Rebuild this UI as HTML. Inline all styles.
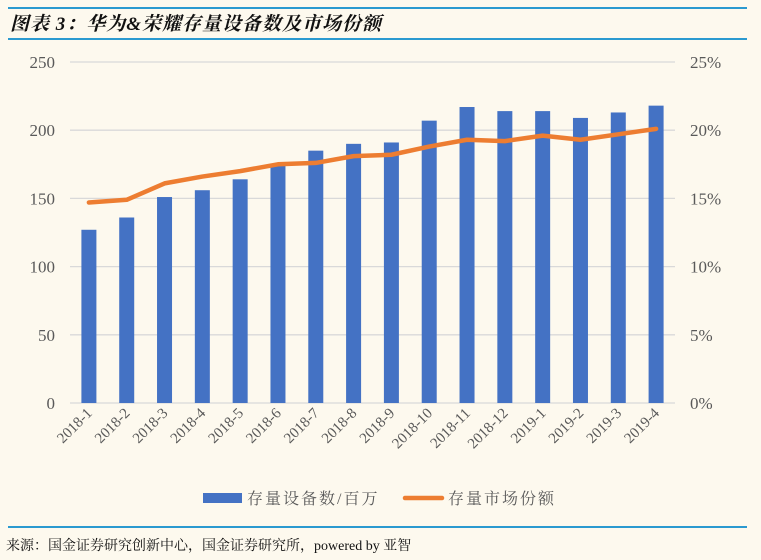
<!DOCTYPE html>
<html><head><meta charset="utf-8"><style>
html,body{margin:0;padding:0;background:#fdf9ee;}
body{width:761px;height:560px;position:relative;overflow:hidden;font-family:"Liberation Serif","Noto Serif CJK SC",serif;}
.hr{position:absolute;left:8px;width:739px;height:2px;background:#2b9ad0;}
#title{position:absolute;left:10px;top:9px;font-size:19px;font-weight:bold;font-style:italic;color:#111;font-family:"Liberation Serif","Noto Serif CJK SC",serif;letter-spacing:1px;}
#source{position:absolute;left:6px;top:535px;font-size:14px;color:#111;}
</style></head><body>
<div class="hr" style="top:7px"></div>
<div id="title">图表 3：华为&amp;荣耀存量设备数及市场份额</div>
<div class="hr" style="top:38px"></div>
<svg id="chart" width="761" height="560" style="position:absolute;left:0;top:0" font-family="Liberation Serif, Noto Serif CJK SC, serif"></svg>
<div class="hr" style="top:526px"></div>
<div id="source">来源：国金证券研究创新中心，国金证券研究所，powered by 亚智</div>
<script>
const categories=["2018-1","2018-2","2018-3","2018-4","2018-5","2018-6","2018-7","2018-8","2018-9","2018-10","2018-11","2018-12","2019-1","2019-2","2019-3","2019-4"];
const deviceValues=[127,136,151,156,164,175,185,190,191,207,217,214,214,209,213,218];
const shareValues=[14.7,14.9,16.1,16.6,17.0,17.5,17.6,18.1,18.2,18.8,19.3,19.2,19.6,19.3,19.7,20.1];
const leftTicks=[0,50,100,150,200,250];
const rightTicks=[0,5,10,15,20,25];
const svg=document.getElementById('chart');
const NS='http://www.w3.org/2000/svg';
const X0=70,X1=675,Y0=403,Y1=62;
const step=(X1-X0)/categories.length;
const xc=i=>X0+step*(i+0.5);
const yL=v=>Y0-(v/250)*(Y0-Y1);
const yR=v=>Y0-(v/25)*(Y0-Y1);
function mk(t,a){const e=document.createElementNS(NS,t);for(const k in a)e.setAttribute(k,a[k]);svg.appendChild(e);return e;}
leftTicks.forEach((v,i)=>{
  const g=mk('line',{x1:X0,x2:X1,y1:yL(v),y2:yL(v),stroke:'#d9d9d9','stroke-width':1.3});
  
  
  const t=mk('text',{x:55,y:yL(v)+6,'text-anchor':'end','font-size':17,fill:'#595959'});
  t.textContent=v;
  
  
});
rightTicks.forEach(v=>{
  const t=mk('text',{x:690,y:yR(v)+6,'text-anchor':'start','font-size':17,fill:'#595959'});
  t.textContent=v+'%';
  
  
});
deviceValues.forEach((v,i)=>{
  const r=mk('rect',{x:xc(i)-7.5,y:yL(v),width:15,height:Y0-yL(v),fill:'#4472c4'});
  
  
});
const pl=mk('polyline',{points:shareValues.map((v,i)=>xc(i)+','+yR(v)).join(' '),fill:'none',stroke:'#ed7d31','stroke-width':4.5,'stroke-linejoin':'round','stroke-linecap':'round'});


categories.forEach((c,i)=>{
  const x=xc(i)+4,y=414;
  const t=mk('text',{x:x,y:y,'text-anchor':'end','font-size':15,fill:'#595959',transform:`rotate(-45 ${x} ${y})`});
  t.textContent=c;
  
  
});
const lb=mk('rect',{x:203,y:493,width:39,height:10,fill:'#4472c4'});


const lt1=mk('text',{x:247,y:504,'font-size':16,fill:'#595959','letter-spacing':2});
lt1.textContent='存量设备数/百万';


const ll=mk('line',{x1:405,x2:442,y1:498,y2:498,stroke:'#ed7d31','stroke-width':4.5,'stroke-linecap':'round'});


const lt2=mk('text',{x:448,y:504,'font-size':16,fill:'#595959','letter-spacing':2});
lt2.textContent='存量市场份额';


</script>
</body></html>
